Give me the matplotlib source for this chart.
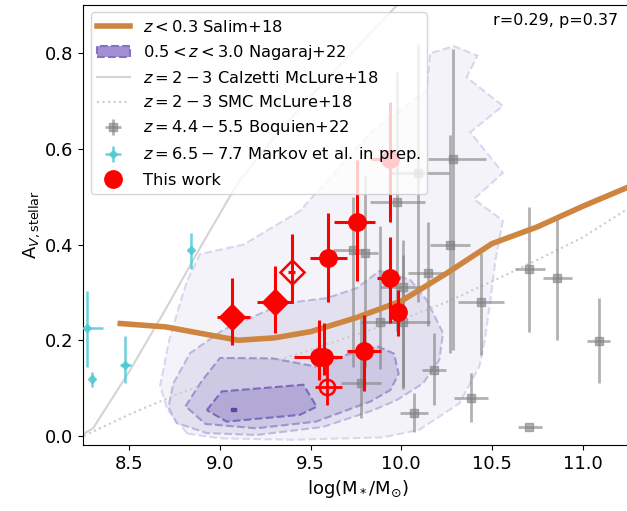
import matplotlib
matplotlib.use("Agg")
import matplotlib.pyplot as plt
import matplotlib.patches as mpatches
from matplotlib.lines import Line2D
import numpy as np

# ---------------- data ----------------
# Salim+18 (z<0.3)
salim_x = [8.45, 8.70, 9.10, 9.30, 9.50, 9.75, 10.00, 10.25, 10.50, 10.75, 11.00, 11.25]
salim_y = [0.235, 0.228, 0.200, 0.205, 0.218, 0.247, 0.282, 0.340, 0.402, 0.437, 0.480, 0.520]

# McLure+18 Calzetti (z=2-3)
calz_x = [8.25, 8.30, 8.50, 8.70, 8.90, 9.10, 9.30, 9.50, 9.70, 9.90, 10.05]
calz_y = [0.005, 0.016, 0.135, 0.265, 0.400, 0.530, 0.625, 0.710, 0.790, 0.870, 0.930]

# McLure+18 SMC (z=2-3)
smc_x = [8.25, 8.50, 8.75, 9.00, 9.25, 9.50, 9.75, 10.00, 10.25, 10.50, 10.75, 11.00, 11.25]
smc_y = [0.000, 0.045, 0.085, 0.120, 0.150, 0.180, 0.212, 0.243, 0.280, 0.323, 0.368, 0.415, 0.475]

# Nagaraj+22 density contours (outer -> inner)
nag1_x = [8.82, 8.71, 8.67, 8.72, 8.79, 8.82, 8.89, 9.13, 9.44, 9.83, 10.14, 10.16, 10.29, 10.42, 10.36,
          10.56, 10.38, 10.56, 10.40, 10.56, 10.52, 10.49, 10.46, 10.43, 10.32, 10.10, 9.90, 9.40, 9.00]
nag1_y = [0.005, 0.055, 0.105, 0.200, 0.290, 0.325, 0.380, 0.400, 0.470, 0.633, 0.723, 0.800, 0.815, 0.795, 0.750,
          0.690, 0.635, 0.550, 0.495, 0.450, 0.370, 0.280, 0.200, 0.145, 0.068, 0.013, -0.003, -0.008, -0.005]
nag2_x = [8.743, 8.835, 9.019, 9.350, 9.589, 9.754, 9.880, 9.975, 10.050, 10.140, 10.230, 10.210, 10.120,
          9.975, 9.846, 9.570, 9.203, 8.927, 8.761, 8.716]
nag2_y = [0.110, 0.173, 0.222, 0.277, 0.288, 0.309, 0.345, 0.335, 0.326, 0.284, 0.215, 0.159, 0.110,
          0.075, 0.054, 0.019, 0.002, 0.006, 0.027, 0.060]
nag3_x = [8.81, 8.90, 9.00, 9.29, 9.53, 9.70, 9.87, 9.96, 9.985, 9.94, 9.83, 9.53, 9.20, 8.92]
nag3_y = [0.062, 0.115, 0.163, 0.162, 0.145, 0.170, 0.187, 0.172, 0.130, 0.096, 0.072, 0.030, 0.016, 0.025]
nag4_x = [8.927, 9.010, 9.460, 9.533, 9.440, 9.037]
nag4_y = [0.054, 0.093, 0.107, 0.061, 0.044, 0.030]
nag5_x = [9.062, 9.086, 9.086, 9.062]
nag5_y = [0.053, 0.053, 0.059, 0.059]

# Boquien+22 (z=4.4-5.5)
boq_x = [10.287, 10.094, 9.978, 10.269, 9.732, 9.800, 10.149, 10.010, 9.880, 10.011,
         10.440, 10.706, 10.857, 11.090, 10.180, 10.385, 10.072, 10.707, 9.778]
boq_y = [0.580, 0.550, 0.490, 0.399, 0.389, 0.382, 0.340, 0.312, 0.239, 0.239,
         0.279, 0.349, 0.330, 0.199, 0.138, 0.079, 0.047, 0.018, 0.110]
boq_xlo = [0.14, 0.15, 0.15, 0.11, 0.11, 0.07, 0.11, 0.13, 0.10, 0.13,
           0.125, 0.08, 0.077, 0.064, 0.067, 0.095, 0.08, 0.062, 0.11]
boq_xhi = [0.18, 0.17, 0.15, 0.11, 0.07, 0.07, 0.12, 0.11, 0.11, 0.15,
           0.127, 0.087, 0.083, 0.061, 0.067, 0.095, 0.077, 0.068, 0.11]
boq_ylo = [0.40, 0.27, 0.27, 0.225, 0.244, 0.237, 0.11, 0.21, 0.10, 0.14,
           0.11, 0.131, 0.13, 0.089, 0.073, 0.049, 0.038, 0.0, 0.073]
boq_yhi = [0.23, 0.27, 0.27, 0.23, 0.11, 0.164, 0.108, 0.066, 0.20, 0.17,
           0.103, 0.13, 0.128, 0.089, 0.077, 0.052, 0.042, 0.0, 0.14]

# Markov et al. in prep. (z=6.5-7.7)
mar_x = [8.265, 8.296, 8.476, 8.840]
mar_y = [0.225, 0.118, 0.148, 0.389]
mar_xlo = [0.05, 0.0, 0.026, 0.0]
mar_xhi = [0.09, 0.0, 0.034, 0.0]
mar_ylo = [0.080, 0.015, 0.038, 0.041]
mar_yhi = [0.077, 0.015, 0.061, 0.035]

# This work: filled circles
tw_x = [9.598, 9.758, 9.938, 9.984, 9.545, 9.575, 9.796, 9.935]
tw_y = [0.373, 0.448, 0.330, 0.260, 0.165, 0.165, 0.178, 0.578]
tw_xlo = [0.10, 0.128, 0.07, 0.0, 0.135, 0.10, 0.094, 0.10]
tw_xhi = [0.10, 0.097, 0.055, 0.0, 0.10, 0.096, 0.091, 0.05]
tw_ylo = [0.092, 0.125, 0.094, 0.052, 0.048, 0.037, 0.085, 0.130]
tw_yhi = [0.094, 0.129, 0.085, 0.045, 0.077, 0.071, 0.075, 0.121]
# This work: filled diamonds
twd_x = [9.065, 9.304]
twd_y = [0.249, 0.280]
twd_xlo = [0.080, 0.098]
twd_xhi = [0.101, 0.101]
twd_ylo = [0.059, 0.064]
twd_yhi = [0.081, 0.075]
# This work: open diamond
twod_x = [9.395]
twod_y = [0.343]
twod_xerr = [0.02]
twod_ylo = [0.066]
twod_yhi = [0.079]
# This work: open circle
twoc_x = [9.592]
twoc_y = [0.103]
twoc_xlo = [0.068]
twoc_xhi = [0.079]
twoc_ylo = [0.038]
twoc_yhi = [0.056]

stats_text = "r=0.29, p=0.37"

# ---------------- plot ----------------
W, H = 627, 511
fig = plt.figure(figsize=(W / 100, H / 100), dpi=100)
xmin, xmax = 8.246, 11.28
ax_left = 83.3 / W
ax_w = (xmax - xmin) * 181.3 / W
ax = fig.add_axes([ax_left, 66 / H, ax_w, (445 - 5) / H])
ax.set_xlim(xmin, xmax)
ax.set_ylim(-0.019, 0.901)

# contours
levels = [
    (nag1_x, nag1_y, '#f4f3fa', '#d9d7ee'),
    (nag2_x, nag2_y, '#e3e0f0', '#bcb7df'),
    (nag3_x, nag3_y, '#cdc8e4', '#9d94cc'),
    (nag4_x, nag4_y, '#b3a9d6', '#7a6bbc'),
]
for xs, ys, fc, ec in levels:
    ax.fill(xs, ys, facecolor=fc, edgecolor=ec, linestyle='--', linewidth=1.5, zorder=1)
ax.fill(nag5_x, nag5_y, facecolor='#5e44a0', edgecolor='#5e44a0', linewidth=1.0, zorder=1)

ax.plot(calz_x, calz_y, color='#d4d4d4', lw=1.5, zorder=2)
ax.plot(smc_x, smc_y, color='#cccccc', lw=1.5, ls=':', zorder=2)

boq = ax.errorbar(boq_x, boq_y, xerr=[boq_xlo, boq_xhi], yerr=[boq_ylo, boq_yhi],
                  fmt='s', color='grey', ms=6, elinewidth=2, alpha=0.6, zorder=3,
                  label=r'$z = 4.4 - 5.5$ Boquien+22')

sal, = ax.plot(salim_x, salim_y, color='#cd853f', lw=4, zorder=4, label=r'$z < 0.3$ Salim+18')

mar = ax.errorbar(mar_x, mar_y, xerr=[mar_xlo, mar_xhi], yerr=[mar_ylo, mar_yhi],
                  fmt='D', color='#4fcad6', ms=4, elinewidth=1.8, alpha=0.85, zorder=4,
                  label=r'$z = 6.5 - 7.7$ Markov et al. in prep.')

ax.errorbar(tw_x, tw_y, xerr=[tw_xlo, tw_xhi], yerr=[tw_ylo, tw_yhi],
            fmt='o', color='red', ms=12.5, elinewidth=2.2, zorder=5)
ax.errorbar(twd_x, twd_y, xerr=[twd_xlo, twd_xhi], yerr=[twd_ylo, twd_yhi],
            fmt='D', color='red', ms=13, elinewidth=2.2, zorder=5)
ax.errorbar(twod_x, twod_y, xerr=twod_xerr, yerr=[twod_ylo, twod_yhi],
            fmt='D', color='red', mfc='none', mec='red', mew=1.8, ms=12.5, elinewidth=2.2, zorder=5)
ax.errorbar(twoc_x, twoc_y, xerr=[twoc_xlo, twoc_xhi], yerr=[twoc_ylo, twoc_yhi],
            fmt='o', color='red', mfc='none', mec='red', mew=1.8, ms=11, elinewidth=2.0, zorder=5)

nag_handle = mpatches.Patch(facecolor='#a48fd4', edgecolor='#8570c2', linestyle='--', linewidth=1.5,
                            label=r'$0.5 < z < 3.0$ Nagaraj+22')
calz_handle = Line2D([], [], color='#d4d4d4', lw=1.5, label=r'$z = 2 - 3$ Calzetti McLure+18')
smc_handle = Line2D([], [], color='#cccccc', lw=1.5, ls=':', label=r'$z = 2 - 3$ SMC McLure+18')
tw_handle = Line2D([], [], color='red', marker='o', ls='none', ms=12.5, label='This work')

leg = ax.legend(handles=[sal, nag_handle, calz_handle, smc_handle, boq, mar, tw_handle],
                loc='upper left', fontsize=11.7, borderaxespad=0.45, labelspacing=0.5)
leg.set_zorder(20)

ax.set_xticks([8.5, 9.0, 9.5, 10.0, 10.5, 11.0])
ax.set_yticks([0.0, 0.2, 0.4, 0.6, 0.8])
ax.tick_params(labelsize=13)
ax.set_xlabel(r'log(M$_*$/M$_{\odot}$)', fontsize=13)
ax.set_ylabel(r'A$_{V,\mathrm{stellar}}$', fontsize=13, labelpad=2)

fig.text(618 / W, (H - 13) / H, stats_text, ha='right', va='top', fontsize=11.5)

fig.savefig('out.png', dpi=100)
